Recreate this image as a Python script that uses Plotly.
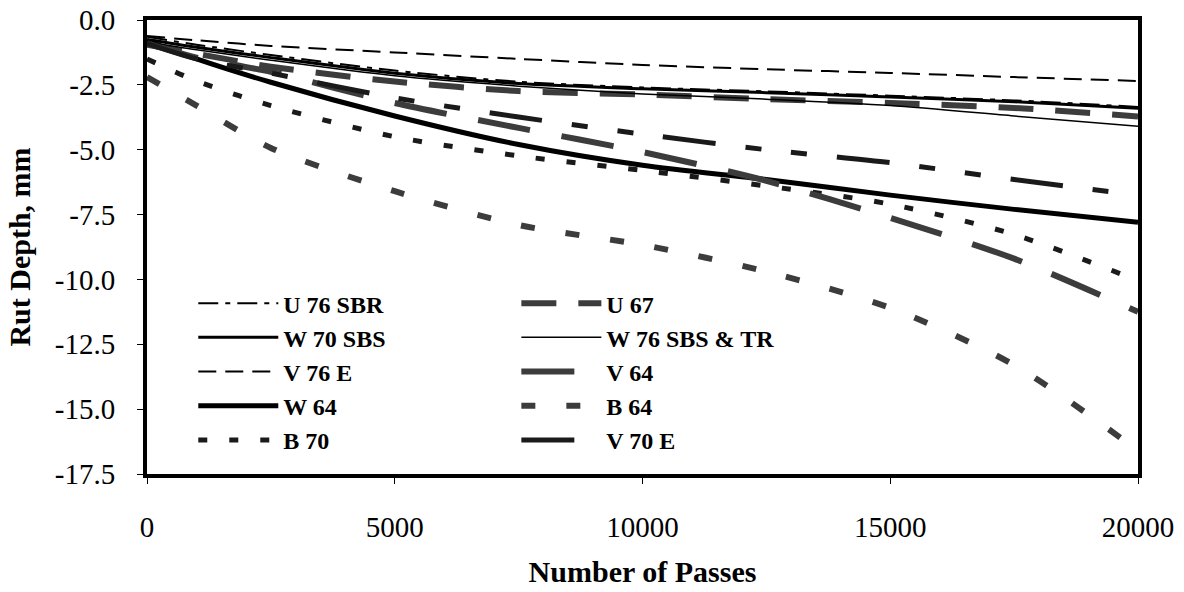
import plotly.graph_objects as go

# Number of wheel passes at which rut depth was evaluated
passes = [0, 1000, 2500, 5000, 7500, 10000, 12500, 15000, 17500, 20000]

# Rut depth (mm) per mixture
u76_sbr = [-0.65, -0.95, -1.35, -1.95, -2.38, -2.60, -2.75, -2.92, -3.10, -3.35]
u67 = [-0.95, -1.30, -1.80, -2.37, -2.74, -2.87, -3.05, -3.20, -3.39, -3.72]
w70_sbs = [-0.75, -1.05, -1.45, -2.05, -2.45, -2.65, -2.80, -2.97, -3.15, -3.40]
w76_sbs_tr = [-0.85, -1.15, -1.55, -2.15, -2.55, -2.85, -3.05, -3.30, -3.70, -4.10]
v76_e = [-0.62, -0.78, -1.00, -1.25, -1.50, -1.73, -1.90, -2.04, -2.20, -2.35]
v64 = [-0.90, -1.45, -2.00, -3.20, -4.16, -5.09, -6.20, -7.63, -9.20, -11.25]
w64 = [-0.80, -1.50, -2.40, -3.70, -4.80, -5.60, -6.15, -6.75, -7.30, -7.80]
b64 = [-2.20, -3.30, -4.93, -6.60, -7.90, -8.67, -9.70, -11.10, -13.30, -16.60]
b70 = [-1.50, -2.35, -3.30, -4.50, -5.24, -5.80, -6.40, -7.10, -8.27, -10.05]
v70_e = [-0.90, -1.50, -2.05, -3.00, -3.74, -4.40, -5.00, -5.50, -6.15, -6.75]

y_tickvals = [0, -2.5, -5, -7.5, -10, -12.5, -15, -17.5]
y_ticktext = ["0.0", "-2.5", "-5.0", "-7.5", "-10.0", "-12.5", "-15.0", "-17.5"]
x_tickvals = [0, 5000, 10000, 15000, 20000]
x_ticktext = ["0", "5000", "10000", "15000", "20000"]

BLACK = "#000000"
TEXTURE = "#3c3c3c"

# (name, values, colour, width, dash, legend column)
series = [
    ("U 76 SBR", u76_sbr, BLACK, 2, "20px,7px,5px,7px", "legend"),
    ("W 70 SBS", w70_sbs, BLACK, 3, "solid", "legend"),
    ("V 76 E", v76_e, BLACK, 2, "18px,9px", "legend"),
    ("W 64", w64, BLACK, 5, "solid", "legend"),
    ("B 70", b70, "#1a1a1a", 5, "9px,22px", "legend"),
    ("U 67", u67, TEXTURE, 6, "35px,22px", "legend2"),
    ("W 76 SBS & TR", w76_sbs_tr, BLACK, 1.5, "solid", "legend2"),
    ("V 64", v64, TEXTURE, 6, "53px,32px", "legend2"),
    ("B 64", b64, TEXTURE, 6, "14px,31px", "legend2"),
    ("V 70 E", v70_e, "#1a1a1a", 5, "53px,30px,16px,30px,16px,30px", "legend2"),
]

fig = go.Figure()
for name, vals, color, width, dash, leg in series:
    fig.add_trace(go.Scatter(
        x=passes, y=vals, name=name, mode="lines", legend=leg,
        line=dict(color=color, width=width, dash=dash, shape="spline", smoothing=0.8),
    ))

serif = "Liberation Serif, Times New Roman, serif"
legend_font = dict(family=serif, size=24, color="black", weight="bold")
legend_common = dict(
    orientation="v", yanchor="top", xanchor="left", y=0.425,
    itemwidth=80, bgcolor="rgba(0,0,0,0)", font=legend_font, tracegroupgap=0,
)

fig.update_layout(
    width=1184, height=592,
    margin=dict(l=147, r=46, t=20, b=118),
    paper_bgcolor="white", plot_bgcolor="white",
    font=dict(family=serif, color="black", size=29),
    showlegend=True,
    legend=dict(x=0.0467, **legend_common),
    legend2=dict(x=0.3727, **legend_common),
    xaxis=dict(
        range=[0, 20000], tickvals=x_tickvals, ticktext=x_ticktext,
        showgrid=False, zeroline=False, automargin=False,
        showline=True, linecolor="black", linewidth=4, mirror=True,
        ticks="outside", ticklen=6, tickwidth=1, tickcolor="black",
        ticklabelstandoff=18,
        tickfont=dict(family=serif, size=29),
        title=dict(text="<b>Number of Passes</b>", standoff=20,
                   font=dict(family=serif, size=30)),
    ),
    yaxis=dict(
        range=[-17.5, 0], tickvals=y_tickvals, ticktext=y_ticktext,
        showgrid=False, zeroline=False, automargin=False,
        showline=True, linecolor="black", linewidth=4, mirror=True,
        ticks="outside", ticklen=6, tickwidth=1, tickcolor="black",
        ticklabelstandoff=16,
        tickfont=dict(family=serif, size=29),
        title=dict(text="<b>Rut Depth, mm</b>", standoff=16,
                   font=dict(family=serif, size=30)),
    ),
)

fig.write_html("out.html")
